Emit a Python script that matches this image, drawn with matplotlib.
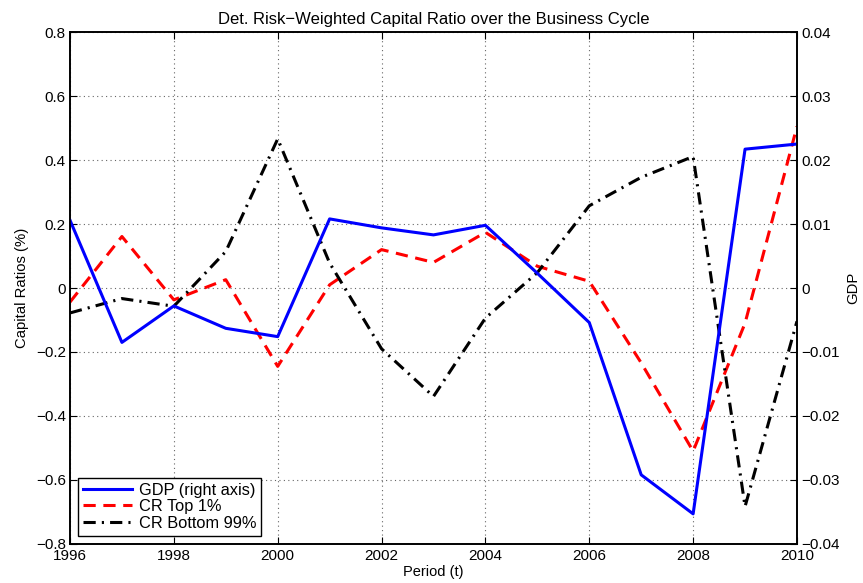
import matplotlib
matplotlib.use("Agg")
import matplotlib.pyplot as plt

# donnees
years = list(range(1996, 2011))
gdp = [0.0106, -0.0085, -0.0028, -0.0063, -0.0076, 0.0108, 0.0094, 0.0083,
       0.0098, 0.0023, -0.0054, -0.0292, -0.0353, 0.0217, 0.0225]
cr_top = [-0.044, 0.161, -0.037, 0.026, -0.245, 0.010, 0.120, 0.080,
          0.174, 0.068, 0.021, -0.234, -0.510, -0.110, 0.505]
cr_bottom = [-0.078, -0.033, -0.057, 0.114, 0.466, 0.078, -0.190, -0.339,
             -0.094, 0.048, 0.257, 0.346, 0.411, -0.683, -0.104]

left_ticks = [-0.8, -0.6, -0.4, -0.2, 0, 0.2, 0.4, 0.6, 0.8]
right_ticks = [-0.04, -0.03, -0.02, -0.01, 0, 0.01, 0.02, 0.03, 0.04]
x_ticks = list(range(1996, 2011, 2))

plt.rcParams['font.family'] = ['Liberation Sans', 'DejaVu Sans']
plt.rcParams['font.size'] = 11

def fmt(v):
    # signe moins long comme matlab
    return ('%g' % v).replace('-', '\u2212')

fig = plt.figure(figsize=(8.63, 5.83), dpi=100)
ax = fig.add_axes([0.0811, 0.067, 0.8424, 0.878])

l2, = ax.plot(years, cr_top, color='red', ls=(0, (4, 2.5)), lw=2.2, label='CR Top 1%')
l3, = ax.plot(years, cr_bottom, color='black', ls=(0, (4, 2, 0.7, 2)), lw=2.2, label='CR Bottom 99%')
ax.set_xlim(1996, 2010)
ax.set_ylim(-0.8, 0.8)
ax.set_xticks(x_ticks)
ax.set_yticks(left_ticks)
ax.set_yticklabels([fmt(v) for v in left_ticks])
ax.grid(True, ls=(0, (1, 3)), color='#666666', lw=0.8)
ax.tick_params(direction='in', top=True, length=5, width=0.8, labelsize=11, pad=3)
ax.tick_params(axis='x', pad=4)
ax.set_xlabel('Period (t)', fontsize=10.5, labelpad=1)
ax.set_ylabel('Capital Ratios (%)', fontsize=10.7, labelpad=5)
ax.set_title('Det. Risk\u2212Weighted Capital Ratio over the Business Cycle', fontsize=12, pad=6)

ax2 = ax.twinx()
l1, = ax2.plot(years, gdp, color='blue', lw=2.2, label='GDP (right axis)')
ax2.set_ylim(-0.04, 0.04)
ax2.set_yticks(right_ticks)
ax2.set_yticklabels([fmt(v) for v in right_ticks])
ax2.tick_params(direction='in', length=5, width=0.8, labelsize=11, pad=3)
ax2.set_ylabel('GDP', fontsize=10.7, labelpad=5)

for a in (ax, ax2):
    for s in a.spines.values():
        s.set_linewidth(1.2)

leg = ax2.legend(handles=[l1, l2, l3], loc='lower left', fancybox=False,
                 framealpha=1, edgecolor='black', handlelength=3.0,
                 borderaxespad=0.5, borderpad=0.3, labelspacing=0.1,
                 handletextpad=0.4, fontsize=11.8)
leg.get_frame().set_linewidth(1.0)

fig.savefig('out.png', dpi=100)
